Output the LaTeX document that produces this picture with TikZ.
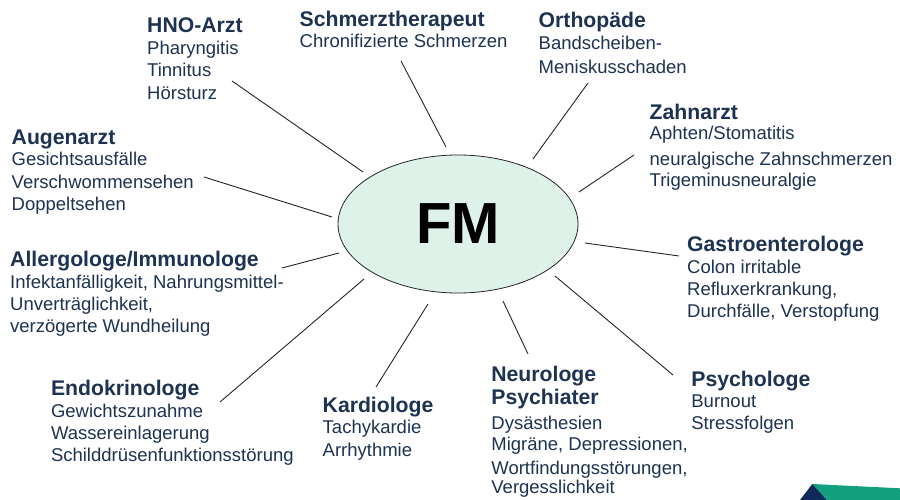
\documentclass[tikz,border=0pt]{standalone}
\usepackage{fontspec}
\setmainfont{Liberation Sans}
\usetikzlibrary{shapes.geometric}
\definecolor{txt}{RGB}{30,50,82}
\definecolor{fmfill}{RGB}{223,242,234}
\definecolor{navyc}{RGB}{16,41,90}
\definecolor{tealc}{RGB}{18,160,126}
\newcommand{\blktitle}[1]{{\fontsize{21.2}{22.3}\selectfont\bfseries #1}}
\begin{document}
\begin{tikzpicture}[x=1pt,y=-1pt,
  blk/.style={anchor=base west, inner sep=0pt, text=txt, font=\fontsize{18.5}{22.3}\selectfont},
  conn/.style={draw=black!85, line width=0.9pt},
  fmnode/.style={ellipse, draw=black!85, line width=0.8pt, fill=fmfill, minimum width=240pt, minimum height=138pt, inner sep=0pt, font=\fontsize{58}{58}\selectfont\bfseries}]
\useasboundingbox (0,0) rectangle (900,500);
\fill[white] (0,0) rectangle (900,500);

% central node
\node[fmnode] (fm) at (458,224) {FM};

% text blocks
\node[blk] (hno) at (147,32.3) {\begin{tabular}[t]{@{}l@{}}\blktitle{HNO-Arzt}\\Pharyngitis\\Tinnitus\\Hörsturz\end{tabular}};
\node[blk] (schmerz) at (299.5,26.7) {\begin{tabular}[t]{@{}l@{}}\blktitle{Schmerztherapeut}\\[-1pt]Chronifizierte Schmerzen\end{tabular}};
\node[blk] (ortho) at (538.5,27.3) {\begin{tabular}[t]{@{}l@{}}\blktitle{Orthopäde}\\Bandscheiben-\\[1.4pt]Meniskusschaden\end{tabular}};
\node[blk] (zahn) at (649.5,120) {\begin{tabular}[t]{@{}l@{}}\blktitle{Zahnarzt}\\[-2.3pt]Aphten/Stomatitis\\[3.4pt]neuralgische Zahnschmerzen\\[-1.3pt]Trigeminusneuralgie\end{tabular}};
\node[blk] (augen) at (11.5,144.3) {\begin{tabular}[t]{@{}l@{}}\blktitle{Augenarzt}\\[-0.6pt]Gesichtsausfälle\\Verschwommensehen\\Doppeltsehen\end{tabular}};
\node[blk] (gastro) at (687,251) {\begin{tabular}[t]{@{}l@{}}\blktitle{Gastroenterologe}\\Colon irritable\\Refluxerkrankung,\\Durchfälle, Verstopfung\end{tabular}};
\node[blk] (allergo) at (10,266) {\begin{tabular}[t]{@{}l@{}}\blktitle{Allergologe/Immunologe}\\Infektanfälligkeit, Nahrungsmittel-\\Unverträglichkeit,\\verzögerte Wundheilung\end{tabular}};
\node[blk] (neuro) at (491.2,381.7) {\begin{tabular}[t]{@{}l@{}}\blktitle{Neurologe}\\\blktitle{Psychiater}\\[2.7pt]Dysästhesien\\[-1.3pt]Migräne, Depressionen,\\[1.7pt]Wortfindungsstörungen,\\[-3pt]Vergesslichkeit\end{tabular}};
\node[blk] (psycho) at (691.2,386) {\begin{tabular}[t]{@{}l@{}}\blktitle{Psychologe}\\[-1pt]Burnout\\Stressfolgen\end{tabular}};
\node[blk] (endo) at (50.8,395) {\begin{tabular}[t]{@{}l@{}}\blktitle{Endokrinologe}\\Gewichtszunahme\\Wassereinlagerung\\Schilddrüsenfunktionsstörung\end{tabular}};
\node[blk] (kardio) at (322.5,412.7) {\begin{tabular}[t]{@{}l@{}}\blktitle{Kardiologe}\\[-1.7pt]Tachykardie\\[1.1pt]Arrhythmie\end{tabular}};

% connector end points
\coordinate (hnoA) at (232,81);      \coordinate (hnoB) at (363,172);
\coordinate (schA) at (401,61);      \coordinate (schB) at (446,147);
\coordinate (ortA) at (588,83);      \coordinate (ortB) at (533,159);
\coordinate (zahA) at (634,155);     \coordinate (zahB) at (579,192);
\coordinate (gasA) at (679,256);     \coordinate (gasB) at (585,243);
\coordinate (psyA) at (673,375);     \coordinate (psyB) at (555,276);
\coordinate (neuA) at (528,354);     \coordinate (neuB) at (503,301);
\coordinate (karA) at (376,387);     \coordinate (karB) at (428,304);
\coordinate (endA) at (220,402);     \coordinate (endB) at (364,279);
\coordinate (allA) at (282,268);     \coordinate (allB) at (339,253);
\coordinate (augA) at (204,177);     \coordinate (augB) at (332,217);

\draw[conn] (hnoA) -- (hnoB);
\draw[conn] (schA) -- (schB);
\draw[conn] (ortA) -- (ortB);
\draw[conn] (zahA) -- (zahB);
\draw[conn] (gasA) -- (gasB);
\draw[conn] (psyA) -- (psyB);
\draw[conn] (neuA) -- (neuB);
\draw[conn] (karA) -- (karB);
\draw[conn] (endA) -- (endB);
\draw[conn] (allA) -- (allB);
\draw[conn] (augA) -- (augB);

% corner decoration
\fill[tealc] (812.3,484) -- (900,488.3) -- (900,500) -- (826.7,500) -- cycle;
\fill[navyc] (800,500) -- (812.3,484) -- (826.7,500) -- cycle;
\end{tikzpicture}
\end{document}
